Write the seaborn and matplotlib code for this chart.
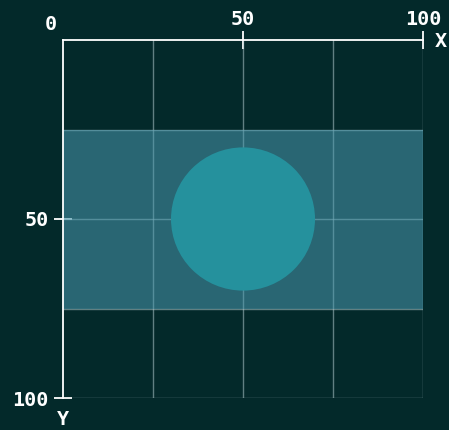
import matplotlib
matplotlib.use("Agg")
import matplotlib.pyplot as plt
import seaborn as sns
from matplotlib.patches import Rectangle, Circle

# data
band_x = [0, 100]
band_y = [25, 75]
circle_center = (50, 50)
circle_radius = 20
major_ticks = [50, 100]
grid_ticks = [25, 50, 75, 100]

BG = "#03292a"
sns.set_style("dark", {"axes.facecolor": BG, "figure.facecolor": BG})
plt.rcParams["font.family"] = ["DejaVu Sans Mono"]
FS = 14.5

fig = plt.figure(figsize=(4.49, 4.30), dpi=100)
ax = fig.add_axes([63/449, 1-398/430, 360/449, 358/430])
ax.set_facecolor(BG)
ax.set_xlim(0, 100)
ax.set_ylim(100, 0)

# grid
for g in grid_ticks:
    ax.axvline(g, color="#b0c8cc", alpha=0.55, lw=1, zorder=1)
    ax.axhline(g, color="#b0c8cc", alpha=0.55, lw=1, zorder=1)

ax.add_patch(Rectangle((band_x[0], band_y[0]), band_x[1]-band_x[0], band_y[1]-band_y[0],
                       facecolor="#4a9ab0", alpha=0.55, edgecolor="none", zorder=2))
ax.add_patch(Circle(circle_center, circle_radius, facecolor="#25919d", edgecolor="none", zorder=3))

for s in ["right", "bottom"]:
    ax.spines[s].set_visible(False)
for s in ["top", "left"]:
    ax.spines[s].set_visible(True)
    ax.spines[s].set_color("white")
    ax.spines[s].set_linewidth(1.3)

ax.xaxis.tick_top()
ax.set_xticks(major_ticks)
ax.set_yticks(major_ticks)
ax.set_xticklabels([str(t) for t in major_ticks])
ax.set_yticklabels([str(t) for t in major_ticks])
ax.tick_params(axis="both", colors="white", direction="inout", length=12.5, width=1.3,
               labelsize=FS)
ax.tick_params(axis="x", top=True, bottom=False, labeltop=True, labelbottom=False, pad=2)
ax.tick_params(axis="y", left=True, right=False, labelleft=True, pad=4)
for lab in ax.get_xticklabels() + ax.get_yticklabels():
    lab.set_fontweight("bold")

ax.text(-12/3.6, -15/3.58, "0", color="white", fontsize=FS, fontweight="bold",
        ha="center", va="center", clip_on=False)
ax.text(1.05, 0.995, "X", transform=ax.transAxes, color="white", fontsize=FS,
        fontweight="bold", ha="center", va="center", clip_on=False)
ax.text(0.0, -0.06, "Y", transform=ax.transAxes, color="white", fontsize=FS,
        fontweight="bold", ha="center", va="center", clip_on=False)

fig.savefig("out.png", dpi=100, facecolor=BG)
